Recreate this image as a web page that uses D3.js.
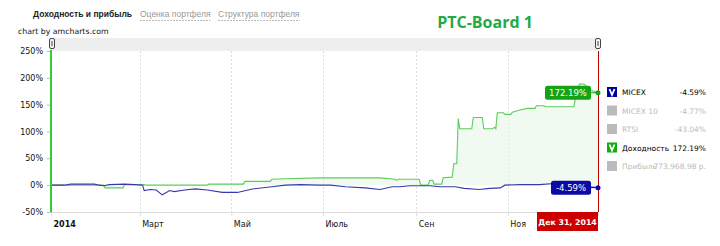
<!DOCTYPE html>
<html>
<head>
<meta charset="utf-8">
<script src="https://cdn.jsdelivr.net/npm/d3@7"></script>
<style>
  body { margin: 0; background: #fff; }
  svg { display: block; font-family: "DejaVu Sans", Verdana, sans-serif; }
</style>
</head>
<body>
<svg id="chart"></svg>
<script>
// Доходность (portfolio return, %)
const returnDates = ['2014-01-01','2014-02-05','2014-02-06','2014-02-18','2014-02-19','2014-03-04','2014-03-05',
  '2014-04-15','2014-04-16','2014-05-09','2014-05-10','2014-05-27','2014-05-28','2014-06-06','2014-06-29',
  '2014-08-08','2014-08-18','2014-08-19','2014-08-20','2014-09-03','2014-09-04','2014-09-09','2014-09-10',
  '2014-09-12','2014-09-13','2014-09-18','2014-09-19','2014-09-25','2014-09-26','2014-09-28','2014-09-29',
  '2014-09-30','2014-10-08','2014-10-09','2014-10-15','2014-10-16','2014-10-22','2014-10-23','2014-10-24',
  '2014-10-25','2014-10-29','2014-10-30','2014-11-03','2014-11-04','2014-11-09','2014-11-14','2014-11-19',
  '2014-11-20','2014-11-25','2014-11-26','2014-12-15','2014-12-17','2014-12-19','2014-12-22','2014-12-25',
  '2014-12-31'];
const returnValues = [0, 0, -5, -5, 1, 1, 0,
  0, 2, 2, 7, 7, 11, 12, 13.5,
  13.5, 11, 9, 11, 11, 0, 0, 9,
  9, 2, 2, 14, 15, 40, 40, 124,
  105, 105, 126, 126, 105, 105, 108, 105,
  135, 135, 132, 132, 136, 140, 143, 143,
  148, 148, 146, 146, 180, 189, 188, 178,
  172.19];

// MICEX (%)
const micexDates = ['2014-01-01','2014-01-10','2014-01-14','2014-01-30','2014-02-02','2014-02-05','2014-02-09',
  '2014-02-19','2014-02-26','2014-03-03','2014-03-04','2014-03-08','2014-03-12','2014-03-16','2014-03-21',
  '2014-03-24','2014-03-31','2014-04-07','2014-04-15','2014-04-25','2014-05-05','2014-05-15','2014-05-28',
  '2014-06-06','2014-06-16','2014-06-28','2014-07-06','2014-07-16','2014-07-29','2014-08-08','2014-08-16',
  '2014-08-21','2014-08-28','2014-09-10','2014-09-17','2014-09-27','2014-10-03','2014-10-13','2014-10-20',
  '2014-10-27','2014-10-30','2014-11-09','2014-11-22','2014-12-02','2014-12-12','2014-12-22','2014-12-31'];
const micexValues = [0, 0, 2, 2, 0, -1, 1,
  2, 1, 0, -10, -8, -9, -18, -10,
  -12, -9, -7, -9, -13.5, -13.5, -7, -3,
  0, 1, 0, 0, -3, -5, -8, -3,
  -3, -1, -1, -3, -3, -6, -8, -6,
  -5, 0, 1, 1, 3, 2, -2, -4.59];

const yTicks = [-50, 0, 50, 100, 150, 200, 250];
const xTickDates = ['2014-01-01','2014-03-01','2014-05-01','2014-07-01','2014-09-01','2014-11-01'];
const xTickLabels = ['2014', 'Март', 'Май', 'Июль', 'Сен', 'Ноя'];

const legendNames = ['MICEX', 'MICEX 10', 'RTSI', 'Доходность', 'Прибыль'];
const legendValues = ['-4.59%', '-4.77%', '-43.04%', '172.19%', '773,968.98 р.'];
const legendOn = [true, false, false, true, false];
const legendColors = ['#0000a0', '#bbb', '#bbb', '#11aa11', '#bbb'];

const tabs = ['Доходность и прибыль', 'Оценка портфеля', 'Структура портфеля'];
const cursorLabel = 'Дек 31, 2014';

const W = 720, H = 246;
const plotL = 51, plotR = 598, plotT = 51, plotB = 212;
const parse = d3.timeParse('%Y-%m-%d');

const svg = d3.select('#chart').attr('width', W).attr('height', H);

const x = d3.scaleTime()
  .domain([parse('2014-01-01'), parse('2014-12-31')])
  .range([plotL, plotR]);
const y = d3.scaleLinear().domain([-50, 250]).range([plotB, plotT]);

const green = returnDates.map((d, i) => ({ date: parse(d), v: returnValues[i] }));
const blue = micexDates.map((d, i) => ({ date: parse(d), v: micexValues[i] }));

// header tabs
const tabX = [33, 140, 218];
tabs.forEach((t, i) => {
  const txt = svg.append('text')
    .attr('x', tabX[i]).attr('y', 17)
    .attr('font-family', '"Liberation Sans", Arial, sans-serif')
    .attr('font-size', 8.5)
    .attr('font-weight', i === 0 ? 'bold' : 'normal')
    .attr('fill', i === 0 ? '#222' : '#999')
    .text(t);
  if (i > 0) {
    const w = txt.node().getComputedTextLength();
    svg.append('line')
      .attr('x1', tabX[i]).attr('x2', tabX[i] + w)
      .attr('y1', 20.5).attr('y2', 20.5)
      .attr('stroke', '#bbb').attr('stroke-dasharray', '2,1');
  }
});

svg.append('text')
  .attr('x', 18).attr('y', 34)
  .attr('font-size', 7.8).attr('fill', '#111')
  .text('chart by amcharts.com');

svg.append('text')
  .attr('x', 485).attr('y', 28)
  .attr('text-anchor', 'middle')
  .attr('font-family', '"Open Sans", sans-serif')
  .attr('font-weight', 'bold')
  .attr('font-size', 16)
  .attr('fill', '#22aa44')
  .text('РТС-Board 1');

// scrollbar
svg.append('rect')
  .attr('x', plotL).attr('y', 38).attr('width', plotR - plotL).attr('height', 13)
  .attr('fill', '#eeeeee');
[plotL + 1, plotR].forEach(gx => {
  svg.append('rect')
    .attr('x', gx - 2.5).attr('y', 38.5).attr('width', 5).attr('height', 10).attr('rx', 1.5)
    .attr('fill', '#f4f4f4').attr('stroke', '#444');
  svg.append('line')
    .attr('x1', gx).attr('x2', gx).attr('y1', 41).attr('y2', 46)
    .attr('stroke', '#444');
});

// vertical grid
svg.append('g')
  .selectAll('line')
  .data(xTickDates.slice(1))
  .join('line')
  .attr('x1', d => Math.round(x(parse(d))) + 0.5)
  .attr('x2', d => Math.round(x(parse(d))) + 0.5)
  .attr('y1', plotT).attr('y2', plotB)
  .attr('stroke', '#ddd').attr('stroke-dasharray', '2,2');

// x axis
const xAxis = d3.axisBottom(x)
  .tickValues(xTickDates.map(parse))
  .tickSize(4)
  .tickFormat((d, i) => xTickLabels[i]);

const gx = svg.append('g')
  .attr('transform', `translate(0,${plotB})`)
  .call(xAxis);
gx.select('.domain').attr('stroke', '#ddd');
gx.selectAll('.tick line').attr('stroke', '#ddd');
gx.selectAll('.tick text')
  .attr('text-anchor', 'start')
  .attr('x', 2).attr('y', 9)
  .attr('font-size', 8)
  .attr('font-family', '"DejaVu Sans", sans-serif')
  .attr('fill', '#111')
  .attr('font-weight', (d, i) => i === 0 ? 'bold' : 'normal');

// y axis
const yAxis = d3.axisLeft(y)
  .tickValues(yTicks)
  .tickSize(4)
  .tickFormat(d => d + '%');

const gy = svg.append('g')
  .attr('transform', `translate(${plotL},0)`)
  .call(yAxis);
gy.select('.domain').remove();
gy.selectAll('.tick line').attr('stroke', '#bbb');
gy.selectAll('.tick text')
  .attr('x', -8)
  .attr('font-size', 8)
  .attr('font-family', '"DejaVu Sans", sans-serif')
  .attr('fill', '#111');

// area + lines
svg.append('path')
  .datum(green)
  .attr('fill', '#e6f7e6').attr('fill-opacity', 0.6)
  .attr('d', d3.area().x(d => x(d.date)).y0(y(0)).y1(d => y(d.v)));

svg.append('path')
  .datum(green)
  .attr('fill', 'none').attr('stroke', '#5ccc5c').attr('stroke-width', 1.1)
  .attr('d', d3.line().x(d => x(d.date)).y(d => y(d.v)));

svg.append('path')
  .datum(blue)
  .attr('fill', 'none').attr('stroke', '#3838b0').attr('stroke-width', 1.1)
  .attr('d', d3.line().x(d => x(d.date)).y(d => y(d.v)));

// y axis line (green, value axis of the return series)
svg.append('line')
  .attr('x1', plotL).attr('x2', plotL).attr('y1', plotT - 1).attr('y2', plotB)
  .attr('stroke', '#33cc33').attr('stroke-width', 2);

// cursor
svg.append('line')
  .attr('x1', plotR + 0.5).attr('x2', plotR + 0.5).attr('y1', plotT).attr('y2', plotB)
  .attr('stroke', '#bb0000').attr('stroke-width', 1);

svg.append('rect')
  .attr('x', plotR - 61).attr('y', plotB).attr('width', 61).attr('height', 19)
  .attr('fill', '#cc0000');
svg.append('text')
  .attr('x', plotR - 30.5).attr('y', plotB + 12.5)
  .attr('text-anchor', 'middle')
  .attr('font-size', 7.8).attr('font-weight', 'bold').attr('fill', '#fff')
  .text(cursorLabel);

// cursor balloons
const balloons = [
  { v: returnValues[returnValues.length - 1], color: '#14a314', w: 46 },
  { v: micexValues[micexValues.length - 1], color: '#0a0aa8', w: 40 }
];
balloons.forEach(b => {
  const cy = y(b.v);
  const bx = plotR - 7 - b.w;
  svg.append('line')
    .attr('x1', plotR - 7).attr('x2', plotR).attr('y1', cy).attr('y2', cy)
    .attr('stroke', b.color);
  svg.append('circle')
    .attr('cx', plotR).attr('cy', cy).attr('r', 2.5).attr('fill', b.color);
  svg.append('rect')
    .attr('x', bx).attr('y', cy - 7).attr('width', b.w).attr('height', 14).attr('rx', 2.5)
    .attr('fill', b.color);
  svg.append('text')
    .attr('x', bx + b.w / 2).attr('y', cy + 3)
    .attr('text-anchor', 'middle')
    .attr('font-size', 8.5).attr('fill', '#fff')
    .text(b.v.toFixed(2) + '%');
});

// legend
const legendY = d3.scalePoint().domain(d3.range(legendNames.length)).range([92, 166]);
const lg = svg.append('g');
legendNames.forEach((name, i) => {
  const cy = legendY(i);
  lg.append('rect')
    .attr('x', 607).attr('y', cy - 5).attr('width', 10).attr('height', 10)
    .attr('fill', legendColors[i]);
  if (legendOn[i]) {
    lg.append('path')
      .attr('d', `M609.5,${cy - 3} L612,${cy + 3} L614.5,${cy - 3}`)
      .attr('fill', 'none').attr('stroke', '#fff').attr('stroke-width', 1.8);
  }
  lg.append('text')
    .attr('x', 622).attr('y', cy + 3)
    .attr('font-size', 7.5)
    .attr('fill', legendOn[i] ? '#000' : '#bbb')
    .text(name);
  lg.append('text')
    .attr('x', 706).attr('y', cy + 3)
    .attr('text-anchor', 'end')
    .attr('font-size', 7.5)
    .attr('fill', legendOn[i] ? '#000' : '#bbb')
    .text(legendValues[i]);
});
</script>
</body>
</html>
